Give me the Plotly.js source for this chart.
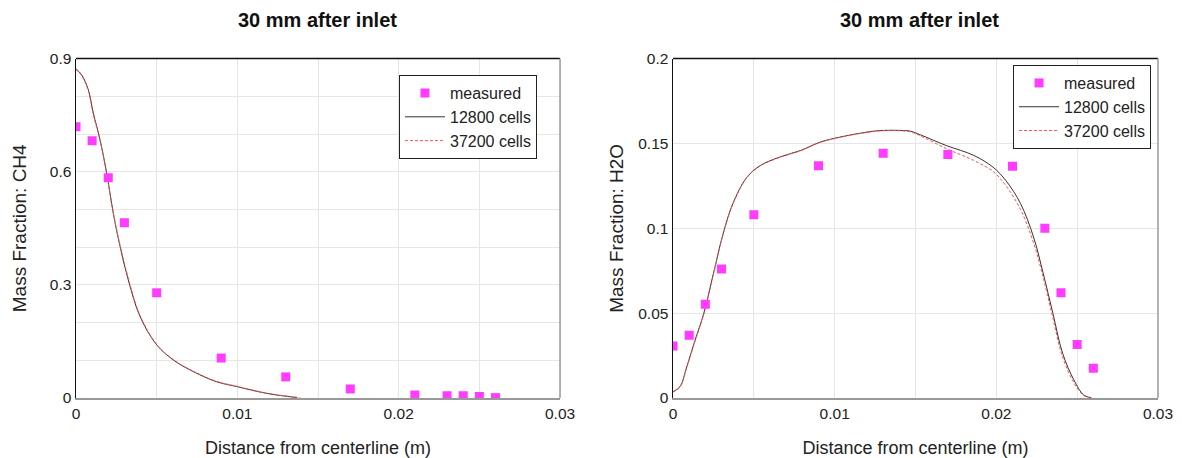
<!DOCTYPE html>
<html><head><meta charset="utf-8">
<script src="https://cdn.plot.ly/plotly-3.0.1.min.js"></script>
<style>html,body{margin:0;padding:0;background:#fff}#chart{width:1182px;height:458px}</style>
</head><body><div id="chart"></div>
<script>
// Left panel: CH4
const ch4MeasX = [0, 0.001, 0.002, 0.003, 0.005, 0.009, 0.013, 0.017, 0.021, 0.023, 0.024, 0.025, 0.026];
const ch4MeasY = [0.719, 0.682, 0.584, 0.465, 0.279, 0.106, 0.056, 0.024, 0.008, 0.006, 0.006, 0.004, 0.001];
const ch4C1X = [0, 0.00035, 0.00076, 0.00107, 0.00149, 0.0019, 0.00231, 0.00273, 0.00324, 0.00397, 0.005, 0.00603, 0.00727, 0.00872, 0.01, 0.0118, 0.0137];
const ch4C1Y = [0.873, 0.857, 0.818, 0.756, 0.685, 0.597, 0.49, 0.402, 0.313, 0.216, 0.141, 0.101, 0.07, 0.043, 0.03, 0.0124, 0.001];
const ch4C2X = [0, 0.00035, 0.00076, 0.00107, 0.00149, 0.0019, 0.00231, 0.00273, 0.00324, 0.00397, 0.005, 0.00603, 0.00727, 0.00872, 0.01, 0.0118, 0.0139];
const ch4C2Y = [0.871, 0.855, 0.815, 0.752, 0.683, 0.594, 0.492, 0.405, 0.318, 0.219, 0.142, 0.102, 0.071, 0.044, 0.031, 0.013, 0.001];
// Right panel: H2O
const h2oMeasX = [0, 0.001, 0.002, 0.003, 0.005, 0.009, 0.013, 0.017, 0.021, 0.023, 0.024, 0.025, 0.026];
const h2oMeasY = [0.0306, 0.037, 0.0553, 0.076, 0.108, 0.1369, 0.1443, 0.1435, 0.1365, 0.100, 0.062, 0.0316, 0.0175];
const h2oC1X = [0, 0.00043, 0.00085, 0.00136, 0.0019, 0.0025, 0.0031, 0.0037, 0.00456, 0.0054, 0.0066, 0.0079, 0.0091, 0.0103, 0.012, 0.0128, 0.014, 0.0147, 0.0153, 0.0169, 0.0186, 0.0198, 0.0206, 0.0215, 0.0223, 0.0229, 0.0235, 0.0241, 0.0248, 0.0254, 0.0259];
const h2oC1Y = [0.0037, 0.0067, 0.0184, 0.034, 0.0498, 0.0734, 0.0969, 0.1145, 0.130, 0.137, 0.142, 0.1459, 0.1508, 0.1537, 0.1567, 0.1576, 0.1577, 0.1572, 0.1551, 0.1488, 0.143, 0.136, 0.128, 0.1145, 0.0949, 0.0734, 0.0498, 0.0263, 0.0106, 0.0018, 0.0];
const h2oC2X = [0, 0.00043, 0.00085, 0.00136, 0.0019, 0.0025, 0.0031, 0.0037, 0.00456, 0.0054, 0.0066, 0.0079, 0.0091, 0.0103, 0.012, 0.0128, 0.014, 0.0147, 0.0153, 0.0169, 0.0186, 0.0198, 0.0206, 0.0215, 0.0223, 0.0229, 0.0235, 0.0241, 0.0248, 0.0254, 0.0258];
const h2oC2Y = [0.0035, 0.0065, 0.018, 0.0335, 0.0492, 0.073, 0.0965, 0.1142, 0.1298, 0.1368, 0.1418, 0.1457, 0.1506, 0.1535, 0.1565, 0.1574, 0.1575, 0.1568, 0.1545, 0.147, 0.140, 0.1335, 0.125, 0.111, 0.0915, 0.071, 0.047, 0.024, 0.009, 0.0015, 0.0];

const names = ['measured', '12800 cells', '37200 cells'];
const magenta = '#ff3cff';
const font = 'Liberation Sans, Arial, sans-serif';

function panel(mx, my, c1x, c1y, c2x, c2y, xa, ya, leg) {
  return [
    {x: c1x, y: c1y, xaxis: xa, yaxis: ya, mode: 'lines', name: names[1], legend: leg, legendrank: 2,
     line: {color: '#333', width: 1, shape: 'spline'}},
    {x: c2x, y: c2y, xaxis: xa, yaxis: ya, mode: 'lines', name: names[2], legend: leg, legendrank: 3,
     line: {color: '#ff5050', width: 1, dash: '3px,2px', shape: 'spline'}},
    {x: mx, y: my, xaxis: xa, yaxis: ya, mode: 'markers', name: names[0], legend: leg, legendrank: 1,
     marker: {symbol: 'square', size: 9, color: magenta}}
  ];
}

const data = [
  ...panel(ch4MeasX, ch4MeasY, ch4C1X, ch4C1Y, ch4C2X, ch4C2Y, 'x', 'y', 'legend'),
  ...panel(h2oMeasX, h2oMeasY, h2oC1X, h2oC1Y, h2oC2X, h2oC2Y, 'x2', 'y2', 'legend2')
];

const grid = '#e6e6e6';
function xax(dom, anchor) {
  return {domain: dom, anchor: anchor, range: [0, 0.03], dtick: 0.01, tick0: 0,
    showgrid: true, gridcolor: grid, zeroline: false, showline: true, linecolor: '#999', linewidth: 2, mirror: false,
    ticks: '', tickfont: {size: 15.5, color: '#222', family: font},
    minor: {dtick: 0.005, showgrid: true, gridcolor: grid},
    title: {text: 'Distance from centerline (m)', font: {size: 18, color: '#222', family: font}, standoff: 24}};
}
function yax(dom, anchor, rng, dt, minor, txt, so) {
  const a = {domain: dom, anchor: anchor, range: rng, dtick: dt, tick0: 0,
    showgrid: true, gridcolor: grid, zeroline: false, showline: true, linecolor: '#111', linewidth: 1.5,
    ticks: '', tickfont: {size: 15.5, color: '#222', family: font},
    title: {text: txt, font: {size: 19, color: '#222', family: font}, standoff: so}};
  if (minor) a.minor = {dtick: minor, showgrid: true, gridcolor: grid};
  return a;
}

const x1d = [0.0643, 0.4738], x2d = [0.5694, 0.9797];
const yd = [0.131, 0.872];
const legendBase = {bgcolor: '#fff', bordercolor: '#222', borderwidth: 1, xref: 'paper', yref: 'paper',
  xanchor: 'right', yanchor: 'top', font: {size: 16, color: '#222', family: font}, tracegroupgap: 0, itemwidth: 40};

function boxLines(xd) {
  return [
    {type: 'line', xref: 'paper', yref: 'paper', x0: xd[0], x1: xd[1], y0: yd[1], y1: yd[1], line: {color: '#111', width: 1.5}},
    {type: 'line', xref: 'paper', yref: 'paper', x0: xd[1], x1: xd[1], y0: yd[0], y1: yd[1], line: {color: '#999', width: 1.5}}
  ];
}

const layout = {
  width: 1182, height: 458, margin: {l: 0, r: 0, t: 0, b: 0},
  paper_bgcolor: '#fff', plot_bgcolor: '#fff', font: {family: font},
  xaxis: xax(x1d, 'y'),
  yaxis: yax(yd, 'x', [0, 0.9], 0.3, 0.1, 'Mass Fraction: CH4', 18),
  xaxis2: xax(x2d, 'y2'),
  yaxis2: yax(yd, 'x2', [0, 0.2], 0.05, null, 'Mass Fraction: H2O', 9),
  legend: Object.assign({}, legendBase, {x: 0.4543, y: 0.836}),
  legend2: Object.assign({}, legendBase, {x: 0.9738, y: 0.858}),
  showlegend: true,
  annotations: [
    {text: '<b>30 mm after inlet</b>', xref: 'paper', yref: 'paper', x: 0.269, y: 0.956, xanchor: 'center', yanchor: 'middle', showarrow: false,
     font: {size: 20, color: '#111', family: font}},
    {text: '<b>30 mm after inlet</b>', xref: 'paper', yref: 'paper', x: 0.7775, y: 0.956, xanchor: 'center', yanchor: 'middle', showarrow: false,
     font: {size: 20, color: '#111', family: font}}
  ],
  shapes: [...boxLines(x1d), ...boxLines(x2d)]
};

Plotly.newPlot('chart', data, layout, {displayModeBar: false, staticPlot: true});
</script></body></html>
